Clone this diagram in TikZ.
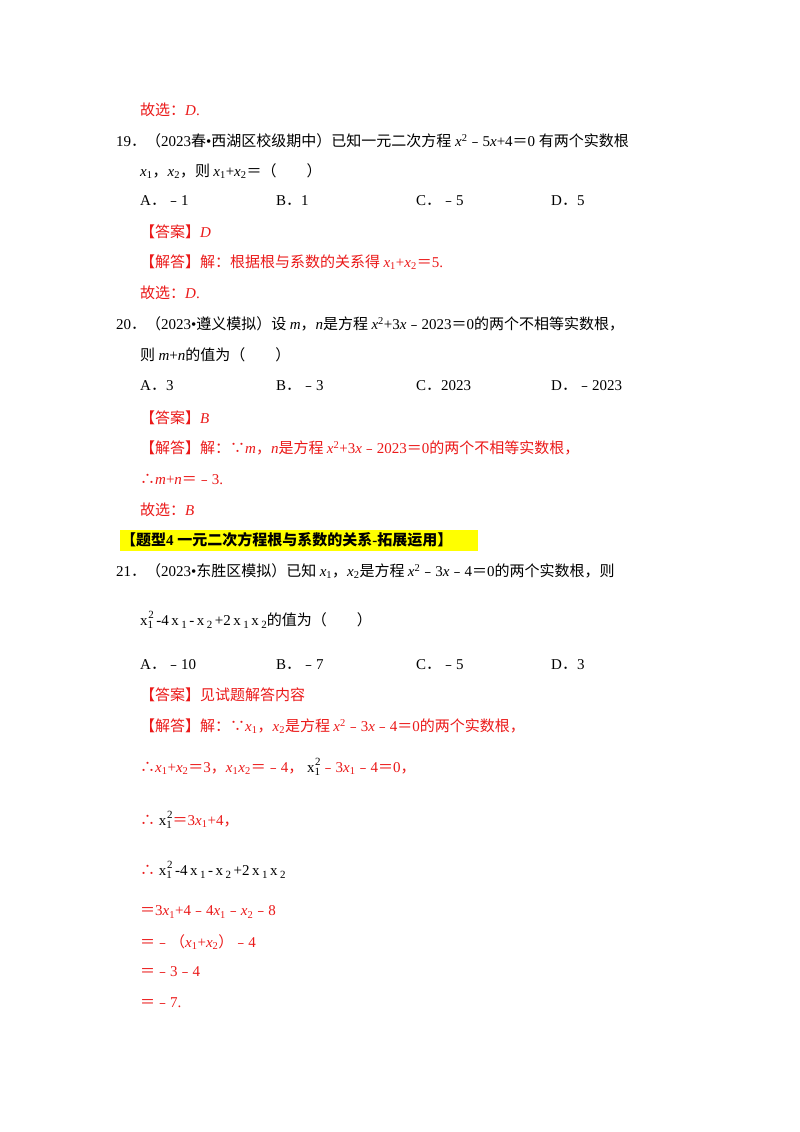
\documentclass[tikz,border=0pt]{standalone}
\usepackage{fontspec}
\setmainfont{Liberation Serif}
\newfontfamily\cj{Noto Sans CJK SC}
\definecolor{ans}{RGB}{235,25,25}
\definecolor{hl}{RGB}{255,255,0}
\newcommand\xx[1]{\textit{x}\textsubscript{#1}}
\newcommand\iv[1]{\textit{#1}}
\newcommand\D{{\cj．}}
\newcommand\sm[1]{{\fontsize{11}{12}\selectfont #1}}
\newcommand\lo[1]{\raisebox{-0.4ex}{\sm{#1}}}
\newcommand\fx{x\lo{1}\hspace{-0.32em}\raisebox{1.0ex}{\sm{2}}}
\newcommand\fa{\fx\,-4\,x\,\lo{1}\,-\,x\,\lo{2}\,+2\,x\,\lo{1}\,x\,\lo{2}}
\begin{document}
\begin{tikzpicture}[x=1pt,y=-1pt,
  t/.style={anchor=west,inner sep=0pt,font=\fontsize{15}{18}\selectfont},
  r/.style={t,text=ans}]
\useasboundingbox (0,0) rectangle (800,1132);
\fill[white] (0,0) rectangle (800,1132);
\node[r] (a1) at (140,110) {{\cj 故选：}\iv{D}.};
\node[t] (q19) at (116,141) {19\D{\cj（}2023{\cj 春}•{\cj 西湖区校级期中）已知一元二次方程} \iv{x}\textsuperscript{2}{\cj﹣}5\iv{x}+4{\cj＝}0 {\cj 有两个实数根}};
\node[t] (q19b) at (140,171) {\xx1{\cj，}\xx2{\cj，则 }\xx1+\xx2{\cj＝（\quad\quad）}};
\node[t] (o19a) at (140,201) {A\D{\cj﹣}1};
\node[t] (o19b) at (276,201) {B\D 1};
\node[t] (o19c) at (416,201) {C\D{\cj﹣}5};
\node[t] (o19d) at (551,201) {D\D 5};
\node[r] (k19) at (140,232) {{\cj【答案】}\iv{D}};
\node[r] (j19) at (140,262) {{\cj【解答】解：根据根与系数的关系得 }\xx1+\xx2{\cj＝}5.};
\node[r] (g19) at (140,293) {{\cj 故选：}\iv{D}.};
\node[t] (q20) at (116,324) {20\D{\cj（}2023•{\cj 遵义模拟）设 }\iv{m}{\cj，}\iv{n}{\cj 是方程 }\iv{x}\textsuperscript{2}+3\iv{x}{\cj﹣}2023{\cj＝}0{\cj 的两个不相等实数根，}};
\node[t] (q20b) at (140,355) {{\cj 则 }\iv{m}+\iv{n}{\cj 的值为（\quad\quad）}};
\node[t] (o20a) at (140,386) {A\D 3};
\node[t] (o20b) at (276,386) {B\D{\cj﹣}3};
\node[t] (o20c) at (416,386) {C\D 2023};
\node[t] (o20d) at (551,386) {D\D{\cj﹣}2023};
\node[r] (k20) at (140,418) {{\cj【答案】}\iv{B}};
\node[r] (j20) at (140,448) {{\cj【解答】解：∵}\iv{m}{\cj，}\iv{n}{\cj 是方程 }\iv{x}\textsuperscript{2}+3\iv{x}{\cj﹣}2023{\cj＝}0{\cj 的两个不相等实数根，}};
\node[r] (s20) at (140,479) {{\cj∴}\iv{m}+\iv{n}{\cj＝﹣}3.};
\node[r] (g20) at (140,510) {{\cj 故选：}\iv{B}};
\fill[hl] (120,530) rectangle (478,551);
\node[t,font=\fontsize{15}{18}\selectfont\bfseries] (h4) at (121,540) {{\cj【题型}4 {\cj 一元二次方程根与系数的关系}-{\cj 拓展运用】}};
\node[t] (q21) at (116,571) {21\D{\cj（}2023•{\cj 东胜区模拟）已知 }\xx1{\cj，}\xx2{\cj 是方程 }\iv{x}\textsuperscript{2}{\cj﹣}3\iv{x}{\cj﹣}4{\cj＝}0{\cj 的两个实数根，则}};
\node[t] (q21b) at (140,620) {\fa{\cj 的值为（\quad\quad）}};
\node[t] (o21a) at (140,665) {A\D{\cj﹣}10};
\node[t] (o21b) at (276,665) {B\D{\cj﹣}7};
\node[t] (o21c) at (416,665) {C\D{\cj﹣}5};
\node[t] (o21d) at (551,665) {D\D 3};
\node[r] (k21) at (140,695) {{\cj【答案】见试题解答内容}};
\node[r] (j21) at (140,726) {{\cj【解答】解：∵}\xx1{\cj，}\xx2{\cj 是方程 }\iv{x}\textsuperscript{2}{\cj﹣}3\iv{x}{\cj﹣}4{\cj＝}0{\cj 的两个实数根，}};
\node[r] (s21a) at (140,767) {{\cj∴}\xx1+\xx2{\cj＝}3{\cj，}\xx1\xx2{\cj＝﹣}4{\cj，}\ \textcolor{black}{\fx}{\cj﹣}3\xx1{\cj﹣}4{\cj＝}0{\cj，}};
\node[r] (s21b) at (140,820) {{\cj∴}\ \textcolor{black}{\fx}{\cj＝}3\xx1+4{\cj，}};
\node[r] (s21c) at (140,870) {{\cj∴}\ \textcolor{black}{\fa}};
\node[r] (e1) at (140,912) {{\cj＝}3\xx1+4{\cj﹣}4\xx1{\cj﹣}\xx2{\cj﹣}8};
\node[r] (e2) at (140,942) {{\cj＝﹣（}\xx1+\xx2{\cj）﹣}4};
\node[r] (e3) at (140,972) {{\cj＝﹣}3{\cj﹣}4};
\node[r] (e4) at (140,1003) {{\cj＝﹣}7.};
\end{tikzpicture}
\end{document}
